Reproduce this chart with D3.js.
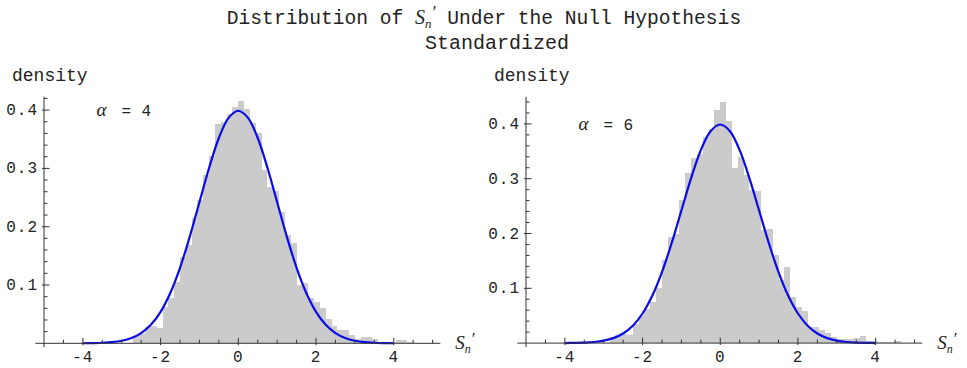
<!DOCTYPE html>
<html><head><meta charset="utf-8">
<script src="https://cdn.jsdelivr.net/npm/d3@7"></script>
<style>
body{margin:0;background:#fff;}
svg{display:block;}
text{fill:#222;}
.mono{font-family:"Liberation Mono","DejaVu Sans Mono",monospace;}
.ital{font-family:"Liberation Serif","DejaVu Serif",serif;font-style:italic;}
</style></head>
<body>
<svg id="chart" width="967" height="368"></svg>
<script>
// ---------- data ----------
const binWidth = 0.15;
const alpha4Start = -2.7;
const alpha4Density = [0.012,0.016,0.028,0.030,0.027,0.062,0.078,0.105,0.148,0.168,0.215,0.245,0.288,0.322,0.376,0.380,0.393,0.406,0.415,0.402,0.378,0.360,0.297,0.268,0.262,0.226,0.186,0.172,0.100,0.104,0.078,0.070,0.060,0.042,0.030,0.023,0.022,0.014,0.008,0.011,0.010,0.008,0.003,0.003,0.002,0.005,0.006,0.002];
const alpha6Start = -2.85;
const alpha6Density = [0.012,0.015,0.016,0.014,0.035,0.050,0.063,0.075,0.100,0.151,0.194,0.200,0.261,0.310,0.338,0.345,0.377,0.390,0.425,0.440,0.405,0.320,0.340,0.307,0.279,0.278,0.206,0.208,0.160,0.115,0.139,0.085,0.065,0.058,0.030,0.029,0.023,0.018,0.012,0.007,0.007,0.007,0.009,0.013,0.004,0.003,0.002,0.002,0.002,0.003];
const curveX = [-4,-3.75,-3.5,-3.25,-3,-2.75,-2.5,-2.25,-2,-1.75,-1.5,-1.25,-1,-0.75,-0.5,-0.25,0,0.25,0.5,0.75,1,1.25,1.5,1.75,2,2.25,2.5,2.75,3,3.25,3.5,3.75,4];
const curveY = [0.0001,0.0004,0.0009,0.0020,0.0044,0.0091,0.0175,0.0317,0.0540,0.0863,0.1295,0.1826,0.2420,0.3011,0.3521,0.3867,0.3989,0.3867,0.3521,0.3011,0.2420,0.1826,0.1295,0.0863,0.0540,0.0317,0.0175,0.0091,0.0044,0.0020,0.0009,0.0004,0.0001];
const xMajorTicks = [-4,-2,0,2,4];
const yMajorTicks = [0.1,0.2,0.3,0.4];
const alphaLabels = ["4","6"];
const titleLine1a = "Distribution of ";
const titleLine1b = " Under the Null Hypothesis";
const titleLine2 = "Standardized";
const yAxisTitle = "density";

// ---------- layout ----------
const panels = [
  {start: alpha4Start, dens: alpha4Density, alpha: alphaLabels[0], xr:[44,432.6], y0:343.3, y4:110.1, yTop:96.7},
  {start: alpha6Start, dens: alpha6Density, alpha: alphaLabels[1], xr:[526,914.5], y0:343.1, y4:123.9, yTop:96.7}
];

const svg = d3.select("#chart");

// title
const t1 = svg.append("text").attr("class","mono").attr("x",484).attr("y",24)
  .attr("text-anchor","middle").style("font-size","19.6px");
t1.append("tspan").text(titleLine1a);
t1.append("tspan").attr("class","ital").style("font-size","20px").text("S");
t1.append("tspan").attr("class","ital").style("font-size","13px").attr("dy",4).text("n");
t1.append("tspan").attr("class","ital").style("font-size","18px").attr("dy",-9).text("\u2032");
t1.append("tspan").attr("dy",5).text(titleLine1b);
svg.append("text").attr("class","mono").attr("x",497).attr("y",49)
  .attr("text-anchor","middle").style("font-size","20px").text(titleLine2);

panels.forEach(p => {
  const x = d3.scaleLinear().domain([-5,5]).range(p.xr);
  const y = d3.scaleLinear().domain([0,0.4]).range([p.y0,p.y4]);
  const g = svg.append("g");

  // bars
  g.selectAll("rect.bar").data(p.dens).join("rect").attr("class","bar")
    .attr("x",(d,i)=>x(p.start+i*binWidth))
    .attr("width",(d,i)=>x(p.start+(i+1)*binWidth)-x(p.start+i*binWidth))
    .attr("y",d=>y(d))
    .attr("height",d=>y(0)-y(d))
    .attr("fill","#cbcbcb")
    .attr("shape-rendering","crispEdges");

  // curve
  const line = d3.line().x((d,i)=>x(curveX[i])).y(d=>y(d)).curve(d3.curveCatmullRom);
  g.append("path").datum(curveY).attr("d",line).attr("fill","none")
    .attr("stroke","#0b0be6").attr("stroke-width",2.2);

  // axes
  const axisColor = "#333";
  g.append("line").attr("x1",x(-5.22)).attr("x2",x(5.2)).attr("y1",y(0)).attr("y2",y(0))
    .attr("stroke",axisColor).attr("stroke-width",1);
  g.append("line").attr("x1",x(-5)).attr("x2",x(-5)).attr("y1",p.yTop).attr("y2",y(0)+4)
    .attr("stroke",axisColor).attr("stroke-width",1);

  // x ticks
  const xMinor = d3.range(-10,11).map(v=>v/2).filter(v=>!xMajorTicks.includes(v) && v>-5);
  g.selectAll("line.xmin").data(xMinor).join("line").attr("class","xmin")
    .attr("x1",d=>x(d)).attr("x2",d=>x(d)).attr("y1",y(0)).attr("y2",y(0)-3.5)
    .attr("stroke",axisColor);
  g.selectAll("line.xmaj").data(xMajorTicks).join("line").attr("class","xmaj")
    .attr("x1",d=>x(d)).attr("x2",d=>x(d)).attr("y1",y(0)+2).attr("y2",y(0)-5.5)
    .attr("stroke",axisColor);
  g.selectAll("text.xl").data(xMajorTicks).join("text").attr("class","xl mono")
    .attr("x",d=>x(d)).attr("y",y(0)+19).attr("text-anchor","middle")
    .style("font-size","16px").style("letter-spacing","1px")
    .text(d=>d3.format("")(d).replace("\u2212","-"));

  // y ticks
  const yMaxTick = y.invert(p.yTop);
  const yMinor = d3.range(1, Math.floor(yMaxTick/0.02+1e-6)+1).map(k=>+(k*0.02).toFixed(2))
    .filter(v=>!yMajorTicks.some(m=>Math.abs(m-v)<1e-9));
  g.selectAll("line.ymin").data(yMinor).join("line").attr("class","ymin")
    .attr("x1",x(-5)).attr("x2",x(-5)+3.5).attr("y1",d=>y(d)).attr("y2",d=>y(d))
    .attr("stroke",axisColor);
  g.selectAll("line.ymaj").data(yMajorTicks).join("line").attr("class","ymaj")
    .attr("x1",x(-5)-2).attr("x2",x(-5)+5.5).attr("y1",d=>y(d)).attr("y2",d=>y(d))
    .attr("stroke",axisColor);
  g.selectAll("text.yl").data(yMajorTicks).join("text").attr("class","yl mono")
    .attr("x",x(-5)-6).attr("y",d=>y(d)+5).attr("text-anchor","end")
    .style("font-size","16px").style("letter-spacing","1px")
    .text(d=>d3.format(".1f")(d));

  // y axis title
  g.append("text").attr("class","mono").attr("x",x(-5)-32).attr("y",81)
    .style("font-size","18px").text(yAxisTitle);

  // x axis title S_n'
  const xt = g.append("text").attr("x",x(5.2)+15).attr("y",y(0)+6).attr("class","ital")
    .style("font-size","19px");
  xt.append("tspan").text("S");
  xt.append("tspan").style("font-size","12px").attr("dy",4).text("n");
  xt.append("tspan").style("font-size","17px").attr("dy",-9).text("\u2032");

  // alpha label
  const ax = x(-3.65);
  const al = g.append("text").attr("x",ax).attr("y",y(0.4)+6).attr("class","mono")
    .style("font-size","16px");
  al.append("tspan").attr("class","ital").style("font-size","19px").text("\u03b1");
  al.append("tspan").attr("x",ax+25).text("=");
  al.append("tspan").attr("x",ax+45).text(p.alpha);
});
</script>
</body></html>
